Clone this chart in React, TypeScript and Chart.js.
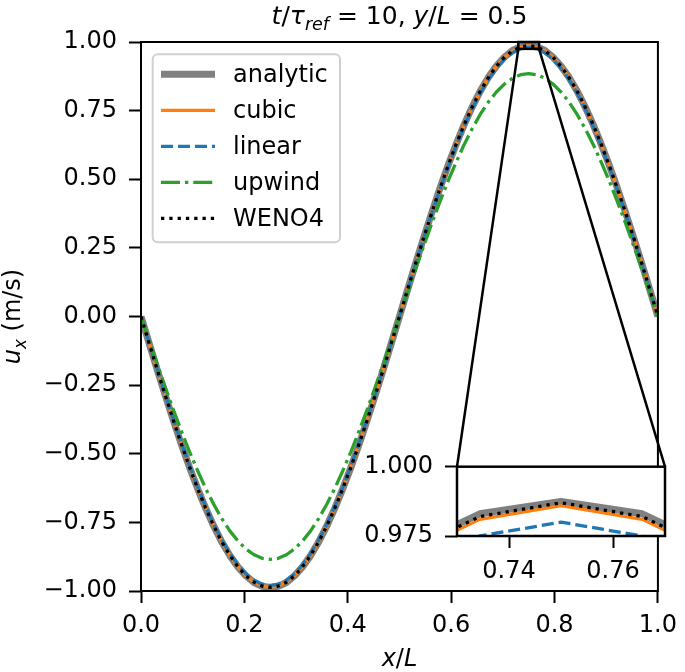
import React, { useEffect, useRef } from 'react';
import { Chart, registerables } from 'chart.js';

Chart.register(...registerables);

// ---------------- data ----------------
const X_GRID = [
  0, 0.015625, 0.03125, 0.046875, 0.0625, 0.078125, 0.09375, 0.109375, 0.125, 0.140625, 0.15625,
  0.171875, 0.1875, 0.203125, 0.21875, 0.234375, 0.25, 0.265625, 0.28125, 0.296875, 0.3125,
  0.328125, 0.34375, 0.359375, 0.375, 0.390625, 0.40625, 0.421875, 0.4375, 0.453125, 0.46875,
  0.484375, 0.5, 0.515625, 0.53125, 0.546875, 0.5625, 0.578125, 0.59375, 0.609375, 0.625,
  0.640625, 0.65625, 0.671875, 0.6875, 0.703125, 0.71875, 0.734375, 0.75, 0.765625, 0.78125,
  0.796875, 0.8125, 0.828125, 0.84375, 0.859375, 0.875, 0.890625, 0.90625, 0.921875, 0.9375,
  0.953125, 0.96875, 0.984375, 1,
];

const ANALYTIC = [
  0, -0.097, -0.193, -0.287, -0.378, -0.466, -0.549, -0.626, -0.698, -0.763, -0.821, -0.871, -0.912, -0.945, -0.969, -0.983,
  -0.9875, -0.983, -0.969, -0.945, -0.912, -0.871, -0.821, -0.763, -0.698, -0.626, -0.549, -0.466, -0.378, -0.287, -0.193, -0.097,
  0, 0.097, 0.193, 0.287, 0.378, 0.466, 0.549, 0.626, 0.698, 0.763, 0.821, 0.871, 0.912, 0.945, 0.969, 0.983,
  0.9875, 0.983, 0.969, 0.945, 0.912, 0.871, 0.821, 0.763, 0.698, 0.626, 0.549, 0.466, 0.378, 0.287, 0.193, 0.097,
  0,
];

const CUBIC = [
  0, -0.097, -0.192, -0.286, -0.377, -0.465, -0.548, -0.626, -0.697, -0.762, -0.82, -0.87, -0.911, -0.944, -0.967, -0.981,
  -0.986, -0.981, -0.967, -0.944, -0.911, -0.87, -0.82, -0.762, -0.697, -0.626, -0.548, -0.465, -0.377, -0.286, -0.192, -0.097,
  0, 0.097, 0.192, 0.286, 0.377, 0.465, 0.548, 0.626, 0.697, 0.762, 0.82, 0.87, 0.911, 0.944, 0.967, 0.981,
  0.986, 0.981, 0.967, 0.944, 0.911, 0.87, 0.82, 0.762, 0.697, 0.626, 0.548, 0.465, 0.377, 0.286, 0.192, 0.097,
  0,
];

const LINEAR = [
  0, -0.096, -0.191, -0.284, -0.375, -0.462, -0.544, -0.622, -0.693, -0.758, -0.815, -0.864, -0.905, -0.938, -0.961, -0.975,
  -0.98, -0.975, -0.961, -0.938, -0.905, -0.864, -0.815, -0.758, -0.693, -0.622, -0.544, -0.462, -0.375, -0.284, -0.191, -0.096,
  0, 0.096, 0.191, 0.284, 0.375, 0.462, 0.544, 0.622, 0.693, 0.758, 0.815, 0.864, 0.905, 0.938, 0.961, 0.975,
  0.98, 0.975, 0.961, 0.938, 0.905, 0.864, 0.815, 0.758, 0.693, 0.622, 0.544, 0.462, 0.375, 0.284, 0.191, 0.096,
  0,
];

const UPWIND = [
  0, -0.087, -0.173, -0.257, -0.339, -0.417, -0.492, -0.561, -0.626, -0.684, -0.736, -0.781, -0.818, -0.847, -0.868, -0.881,
  -0.885, -0.881, -0.868, -0.847, -0.818, -0.781, -0.736, -0.684, -0.626, -0.561, -0.492, -0.417, -0.339, -0.257, -0.173, -0.087,
  0, 0.087, 0.173, 0.257, 0.339, 0.417, 0.492, 0.561, 0.626, 0.684, 0.736, 0.781, 0.818, 0.847, 0.868, 0.881,
  0.885, 0.881, 0.868, 0.847, 0.818, 0.781, 0.736, 0.684, 0.626, 0.561, 0.492, 0.417, 0.339, 0.257, 0.173, 0.087,
  0,
];

const WENO4 = [
  0, -0.097, -0.193, -0.287, -0.378, -0.465, -0.548, -0.626, -0.698, -0.763, -0.821, -0.87, -0.912, -0.945, -0.968, -0.982,
  -0.987, -0.982, -0.968, -0.945, -0.912, -0.87, -0.821, -0.763, -0.698, -0.626, -0.548, -0.465, -0.378, -0.287, -0.193, -0.097,
  0, 0.097, 0.193, 0.287, 0.378, 0.465, 0.548, 0.626, 0.698, 0.763, 0.821, 0.87, 0.912, 0.945, 0.968, 0.982,
  0.987, 0.982, 0.968, 0.945, 0.912, 0.87, 0.821, 0.763, 0.698, 0.626, 0.548, 0.465, 0.378, 0.287, 0.193, 0.097,
  0,
];

const SERIES_LABELS = ['analytic', 'cubic', 'linear', 'upwind', 'WENO4'];

const X_TICKS = [0, 0.2, 0.4, 0.6, 0.8, 1.0];
const Y_TICKS = [-1, -0.75, -0.5, -0.25, 0, 0.25, 0.5, 0.75, 1];
const INSET_X_TICKS = [0.74, 0.76];
const INSET_Y_TICKS = [0.975, 1.0];
const ZOOM_X = [0.73, 0.77];
const ZOOM_Y = [0.975, 1.0];

// ---------------- styles / layout ----------------
const W = 685;
const H = 672;
const FONT = '"DejaVu Sans", sans-serif';
const FS = 24;
const TICK_LEN = 12;

const STYLES = [
  { color: '#808080', width: 7, dash: [] as number[] },
  { color: '#ff7f0e', width: 3.3, dash: [] as number[] },
  { color: '#1f77b4', width: 3.3, dash: [12, 5] },
  { color: '#2ca02c', width: 3.3, dash: [19, 5, 3.3, 5] },
  { color: '#000000', width: 3.3, dash: [3.3, 5] },
];
const SERIES = [ANALYTIC, CUBIC, LINEAR, UPWIND, WENO4];

// inset canvas placement (page px) and its axes box inside it
const INSET_CANVAS = { left: 340, top: 440, width: 345, height: 232 };
const INSET_AREA = { left: 457, top: 466.7, right: 665, bottom: 536 };

const fmtMinus = (v: number, d: number) => (v < 0 ? '\u2212' : '') + Math.abs(v).toFixed(d);

type Seg = { t: string; it?: boolean; sub?: boolean };
const segFont = (s: Seg, size: number) => `${s.it ? 'italic ' : ''}${s.sub ? size * 0.7 : size}px ${FONT}`;
function richWidth(ctx: CanvasRenderingContext2D, segs: Seg[], size: number) {
  let w = 0;
  for (const s of segs) {
    ctx.font = segFont(s, size);
    w += ctx.measureText(s.t).width;
  }
  return w;
}
function drawRich(ctx: CanvasRenderingContext2D, segs: Seg[], cx: number, baseline: number, size: number) {
  ctx.save();
  ctx.fillStyle = '#000';
  ctx.textAlign = 'left';
  ctx.textBaseline = 'alphabetic';
  const w = richWidth(ctx, segs, size);
  let x = cx - w / 2;
  for (const s of segs) {
    ctx.font = segFont(s, size);
    ctx.fillText(s.t, x, baseline + (s.sub ? size * 0.24 : 0));
    x += ctx.measureText(s.t).width;
  }
  ctx.restore();
}

const TITLE: Seg[] = [
  { t: 't', it: true }, { t: '/' }, { t: '\u03c4', it: true }, { t: 'ref', it: true, sub: true },
  { t: ' = 10, ' }, { t: 'y', it: true }, { t: '/' }, { t: 'L', it: true }, { t: ' = 0.5' },
];
const XLABEL: Seg[] = [{ t: 'x', it: true }, { t: '/' }, { t: 'L', it: true }];
const YLABEL: Seg[] = [{ t: 'u', it: true }, { t: 'x', it: true, sub: true }, { t: ' (m/s)' }];

function makeDatasets() {
  return SERIES.map((arr, i) => ({
    label: SERIES_LABELS[i],
    data: X_GRID.map((x, j) => ({ x, y: arr[j] })),
    borderColor: STYLES[i].color,
    borderWidth: STYLES[i].width,
    borderDash: STYLES[i].dash,
    borderCapStyle: 'butt' as const,
    borderJoinStyle: 'round' as const,
    pointRadius: 0,
    fill: false,
    tension: 0,
    clip: 0,
    order: 5 - i,
  }));
}

function axisCommon(ticksArr: number[], digits: number, pad: number) {
  return {
    type: 'linear' as const,
    afterBuildTicks: (s: any) => {
      s.ticks = ticksArr.map((v) => ({ value: v }));
    },
    grid: {
      drawOnChartArea: false,
      drawTicks: true,
      tickLength: TICK_LEN,
      tickWidth: 2,
      tickColor: '#000',
    },
    border: { display: false },
    ticks: {
      color: '#000',
      font: { family: FONT, size: FS },
      autoSkip: false,
      maxRotation: 0,
      padding: pad,
      callback: (v: any) => fmtMinus(Number(v), digits),
    },
  };
}

export default function App() {
  const mainRef = useRef<HTMLCanvasElement>(null);
  const insetRef = useRef<HTMLCanvasElement>(null);

  useEffect(() => {
    const mainCanvas = mainRef.current!;
    const insetCanvas = insetRef.current!;

    const mainDecor = {
      id: 'mainDecor',
      afterDatasetsDraw(chart: any) {
        const { ctx, chartArea: a, scales } = chart;
        const xs = scales.x;
        const ys = scales.y;
        ctx.save();
        const rx0 = xs.getPixelForValue(ZOOM_X[0]);
        const rx1 = xs.getPixelForValue(ZOOM_X[1]);
        const ry0 = ys.getPixelForValue(ZOOM_Y[1]);
        const ry1 = ys.getPixelForValue(ZOOM_Y[0]);
        ctx.strokeStyle = '#000';
        ctx.lineWidth = 2.5;
        ctx.strokeRect(rx0, ry0, rx1 - rx0, ry1 - ry0);
        ctx.beginPath();
        ctx.moveTo(rx0, ry1);
        ctx.lineTo(INSET_AREA.left, INSET_AREA.top);
        ctx.moveTo(rx1, ry1);
        ctx.lineTo(INSET_AREA.right, INSET_AREA.top);
        ctx.stroke();
        ctx.lineWidth = 2;
        ctx.strokeRect(a.left, a.top, a.right - a.left, a.bottom - a.top);
        ctx.restore();
      },
      afterDraw(chart: any) {
        const { ctx, chartArea: a } = chart;
        ctx.save();
        const lx = 152.7, ly = 54.3, lw = 187.3, lh = 188;
        ctx.beginPath();
        (ctx as any).roundRect(lx, ly, lw, lh, 5);
        ctx.fillStyle = 'rgba(255,255,255,0.8)';
        ctx.fill();
        ctx.strokeStyle = '#d0d0d0';
        ctx.lineWidth = 2;
        ctx.stroke();
        SERIES_LABELS.forEach((lab, i) => {
          const cy = 74.3 + i * 36;
          const st = STYLES[i];
          ctx.beginPath();
          ctx.setLineDash(st.dash);
          ctx.lineCap = 'butt';
          ctx.strokeStyle = st.color;
          ctx.lineWidth = st.width;
          ctx.moveTo(161, cy);
          ctx.lineTo(215, cy);
          ctx.stroke();
          ctx.setLineDash([]);
          ctx.fillStyle = '#000';
          ctx.font = `${FS}px ${FONT}`;
          ctx.textAlign = 'left';
          ctx.textBaseline = 'middle';
          ctx.fillText(lab, 233, cy + 1);
        });
        ctx.restore();
        const cx = (a.left + a.right) / 2;
        drawRich(ctx, TITLE, cx, 24, 25);
        drawRich(ctx, XLABEL, cx, 666, FS);
        ctx.save();
        ctx.translate(20, (a.top + a.bottom) / 2);
        ctx.rotate(-Math.PI / 2);
        drawRich(ctx, YLABEL, 0, 0, FS);
        ctx.restore();
      },
    };

    const mainChart = new Chart(mainCanvas, {
      type: 'line',
      data: { datasets: makeDatasets() as any },
      options: {
        responsive: false,
        animation: false,
        devicePixelRatio: 1,
        layout: { padding: { left: 0, right: 20, top: 42, bottom: 0 } },
        plugins: { legend: { display: false }, tooltip: { enabled: false }, title: { display: false } },
        scales: {
          x: {
            ...axisCommon(X_TICKS, 1, 8),
            min: 0,
            max: 1,
            afterFit: (s: any) => { s.height = 81; },
          },
          y: {
            ...axisCommon(Y_TICKS, 2, 12),
            min: -1,
            max: 1,
            afterFit: (s: any) => { s.width = 141; },
          },
        } as any,
      },
      plugins: [mainDecor],
    });

    const insetDecor = {
      id: 'insetDecor',
      beforeDraw(chart: any) {
        const { ctx, chartArea: a } = chart;
        ctx.save();
        ctx.fillStyle = '#fff';
        ctx.fillRect(a.left, a.top, a.right - a.left, a.bottom - a.top);
        ctx.restore();
      },
      afterDatasetsDraw(chart: any) {
        const { ctx, chartArea: a } = chart;
        ctx.save();
        ctx.strokeStyle = '#000';
        ctx.lineWidth = 2.5;
        ctx.strokeRect(a.left, a.top, a.right - a.left, a.bottom - a.top);
        ctx.restore();
      },
    };

    const insetChart = new Chart(insetCanvas, {
      type: 'line',
      data: { datasets: makeDatasets() as any },
      options: {
        responsive: false,
        animation: false,
        devicePixelRatio: 1,
        layout: {
          padding: {
            left: 0,
            right: INSET_CANVAS.left + INSET_CANVAS.width - INSET_AREA.right,
            top: INSET_AREA.top - INSET_CANVAS.top,
            bottom: 0,
          },
        },
        plugins: { legend: { display: false }, tooltip: { enabled: false } },
        scales: {
          x: {
            ...axisCommon(INSET_X_TICKS, 2, 9),
            min: ZOOM_X[0],
            max: ZOOM_X[1],
            afterFit: (s: any) => { s.height = INSET_CANVAS.top + INSET_CANVAS.height - INSET_AREA.bottom; },
          },
          y: {
            ...axisCommon(INSET_Y_TICKS, 3, 12),
            min: ZOOM_Y[0],
            max: ZOOM_Y[1],
            afterFit: (s: any) => { s.width = INSET_AREA.left - INSET_CANVAS.left; },
          },
        } as any,
      },
      plugins: [insetDecor],
    });

    return () => {
      mainChart.destroy();
      insetChart.destroy();
    };
  }, []);

  return (
    <div style={{ position: 'fixed', left: 0, top: 0, width: W, height: H, background: '#fff' }}>
      <canvas ref={mainRef} width={W} height={H} style={{ position: 'absolute', left: 0, top: 0 }} />
      <canvas
        ref={insetRef}
        width={INSET_CANVAS.width}
        height={INSET_CANVAS.height}
        style={{ position: 'absolute', left: INSET_CANVAS.left, top: INSET_CANVAS.top }}
      />
    </div>
  );
}
